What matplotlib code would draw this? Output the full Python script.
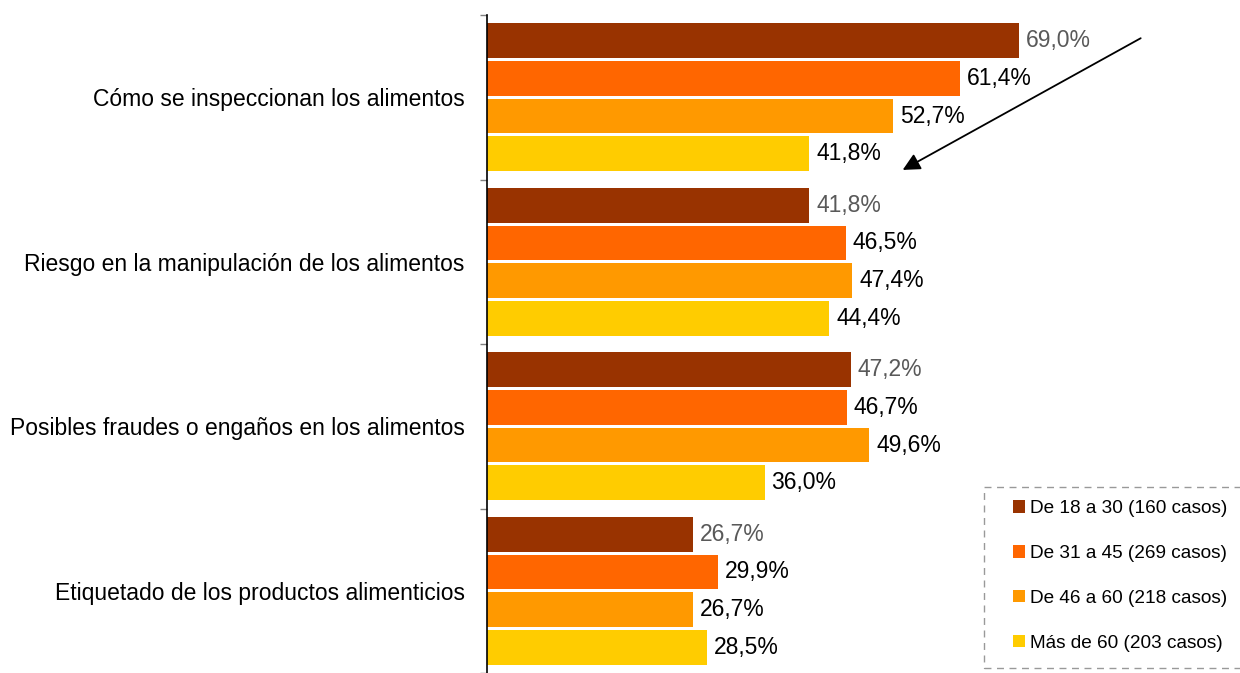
import numpy as np
import matplotlib
matplotlib.use('Agg')
import matplotlib.pyplot as plt
from matplotlib.patches import Patch, Rectangle

plt.rcParams['font.family'] = ['Liberation Sans', 'DejaVu Sans']

categories = ['Cómo se inspeccionan los alimentos',
              'Riesgo en la manipulación de los alimentos',
              'Posibles fraudes o engaños en los alimentos',
              'Etiquetado de los productos alimenticios']
series_names = ['De 18 a 30 (160 casos)', 'De 31 a 45 (269 casos)',
                'De 46 a 60 (218 casos)', 'Más de 60 (203 casos)']
age_18_30 = [69.0, 41.8, 47.2, 26.7]
age_31_45 = [61.4, 46.5, 46.7, 29.9]
age_46_60 = [52.7, 47.4, 49.6, 26.7]
age_60_plus = [41.8, 44.4, 36.0, 28.5]
series = [age_18_30, age_31_45, age_46_60, age_60_plus]
colors = ['#993300', '#FF6600', '#FF9900', '#FFCC00']
label_colors = ['#595959', 'black', 'black', 'black']

W, H = 1240, 673
fig = plt.figure(figsize=(W / 100, H / 100), dpi=100)
ax = fig.add_axes([487 / W, 0, 1 - 487 / W, 658 / H])

pitch = 38 / 166
bh = 35 / 166
y = np.arange(len(categories))
for i, vals in enumerate(series):
    pos = y + (i - 1.5) * pitch
    ax.barh(pos, vals, height=bh, color=colors[i], label=series_names[i])
    for p, v in zip(pos, vals):
        ax.text(v + 0.9, p, f'{v:.1f}%'.replace('.', ','), va='center', ha='left',
                fontsize=16.5, color=label_colors[i])

ax.set_xlim(0, (W - 487) / 7.71)
ax.set_ylim(3.5 - 6 / 166, -0.5)
for s in ['top', 'right', 'bottom']:
    ax.spines[s].set_visible(False)
ax.spines['left'].set_linewidth(1.2)
ax.set_xticks([])
ax.set_yticks(y)
ax.set_yticklabels(categories, fontsize=16.5)
ax.tick_params(axis='y', which='major', length=0, pad=16)
ax.set_yticks(np.arange(-0.5, 4, 1), minor=True)
ax.tick_params(axis='y', which='minor', length=5, width=1, color='#808080')

ax.annotate('', xy=(53.6, 0.45), xytext=(85.1, -0.367),
            arrowprops=dict(arrowstyle='-|>', color='black', lw=1.3,
                            mutation_scale=26))

# dashed legend frame
fig.add_artist(Rectangle((984 / W, 5 / H), 270 / W, 181 / H,
                         transform=fig.transFigure, fill=False,
                         edgecolor='#999999', linestyle=(0, (5, 4)), lw=1))

handles = [Patch(facecolor=c, edgecolor='none') for c in colors]
leg = fig.legend(handles, series_names, loc='upper left',
                 bbox_to_anchor=(1013 / W, 1 - 500 / H), fontsize=13.7,
                 handlelength=0.63, handleheight=0.63, handletextpad=0.25,
                 labelspacing=1.47, borderpad=0, borderaxespad=0,
                 frameon=False)

fig.savefig('out.png', dpi=100)
